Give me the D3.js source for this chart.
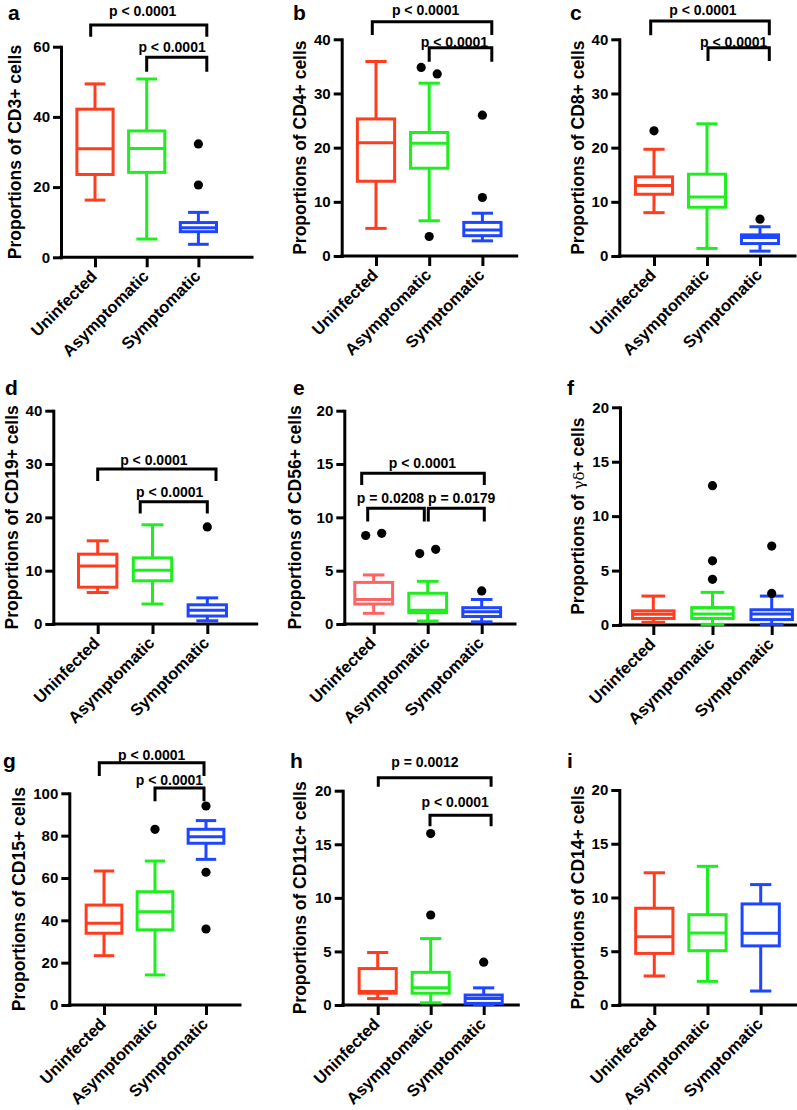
<!DOCTYPE html>
<html>
<head>
<meta charset="utf-8">
<script src="https://cdn.jsdelivr.net/npm/d3@7"></script>
<style>
  html, body { margin: 0; padding: 0; background: #fff; }
  svg text { font-family: "Liberation Sans", Arial, sans-serif; font-weight: bold; fill: #000; }
</style>
</head>
<body>
<svg id="chart" width="797" height="1110"></svg>
<script>
// ---------------- DATA ----------------
const groups = ["Uninfected", "Asymptomatic", "Symptomatic"];
const panelLetters = ["a", "b", "c", "d", "e", "f", "g", "h", "i"];
const markers = ["CD3+", "CD4+", "CD8+", "CD19+", "CD56+", "γδ+", "CD15+", "CD11c+", "CD14+"];
const yMax = [60, 40, 40, 40, 20, 20, 100, 20, 20];
const yTickStep = [20, 10, 10, 10, 5, 5, 20, 5, 5];

// box stats per group: [whisker low, Q1, median, Q3, whisker high]
const cd3Box   = [[16.3, 23.6, 30.9, 42.2, 49.4], [5.2, 24.2, 31.0, 36.0, 50.8], [3.7, 7.3, 8.4, 9.9, 12.8]];
const cd4Box   = [[5.1, 13.8, 20.9, 25.3, 35.9], [6.5, 16.2, 20.8, 22.8, 31.9], [2.8, 3.75, 4.8, 6.2, 7.9]];
const cd8Box   = [[8.0, 11.4, 13.0, 14.6, 19.7], [1.4, 9.0, 10.9, 15.1, 24.4], [0.9, 2.3, 3.4, 3.9, 5.4]];
const cd19Box  = [[5.9, 6.9, 10.9, 13.1, 15.6], [3.75, 8.1, 10.1, 12.4, 18.6], [0.6, 1.5, 2.6, 3.6, 4.9]];
const cd56Box  = [[1.0, 1.87, 2.3, 3.9, 4.6], [0.28, 1.06, 1.3, 2.88, 4.0], [0.2, 0.7, 1.15, 1.53, 2.3]];
const gdBox    = [[0.25, 0.6, 0.98, 1.3, 2.66], [0.06, 0.6, 1.0, 1.6, 3.0], [0.06, 0.5, 1.0, 1.4, 2.66]];
const cd15Box  = [[23.3, 33.9, 38.6, 47.2, 63.3], [14.2, 35.5, 44.0, 53.5, 68.0], [68.8, 76.4, 79.5, 83.0, 87.1]];
const cd11cBox = [[0.6, 1.1, 1.25, 3.4, 4.9], [0.2, 1.1, 1.6, 3.05, 6.2], [0.02, 0.15, 0.6, 0.93, 1.6]];
const cd14Box  = [[2.7, 4.8, 6.35, 9.0, 12.3], [2.2, 5.05, 6.7, 8.4, 12.9], [1.3, 5.5, 6.67, 9.4, 11.2]];

// outliers per group
const cd3Out   = [[], [], [32.3, 20.6]];
const cd4Out   = [[], [34.8, 33.6, 3.6], [26.0, 10.8]];
const cd8Out   = [[23.1], [], [6.8]];
const cd19Out  = [[], [], [18.2]];
const cd56Out  = [[8.3, 8.5], [6.6, 7.0], [3.1]];
const gdOut    = [[], [12.8, 5.9, 4.2], [7.25, 2.9]];
const cd15Out  = [[], [83.0], [94.0, 62.7, 35.9]];
const cd11cOut = [[], [16.0, 8.4], [4.0]];
const cd14Out  = [[], [], []];

// significance brackets: [group from, group to, bracket level (data units), label]
const cd3Sig   = [[0, 2, 66.2, "p < 0.0001"], [1, 2, 57.0, "p < 0.0001"]];
const cd4Sig   = [[0, 2, 43.25, "p < 0.0001"], [1, 2, 38.45, "p < 0.0001"]];
const cd8Sig   = [[0, 2, 43.4, "p < 0.0001"], [1, 2, 38.45, "p < 0.0001"]];
const cd19Sig  = [[0, 2, 29.06, "p < 0.0001"], [1, 2, 22.93, "p < 0.0001"]];
const cd56Sig  = [[0, 2, 14.13, "p < 0.0001"], [0, 1, 10.85, "p = 0.0208"], [1, 2, 10.85, "p = 0.0179"]];
const gdSig    = [];
const cd15Sig  = [[0, 2, 114.45, "p < 0.0001"], [1, 2, 102.5, "p < 0.0001"]];
const cd11cSig = [[0, 2, 21.2, "p = 0.0012"], [1, 2, 17.72, "p < 0.0001"]];
const cd14Sig  = [];

const boxes = [cd3Box, cd4Box, cd8Box, cd19Box, cd56Box, gdBox, cd15Box, cd11cBox, cd14Box];
const outliers = [cd3Out, cd4Out, cd8Out, cd19Out, cd56Out, gdOut, cd15Out, cd11cOut, cd14Out];
const sigs = [cd3Sig, cd4Sig, cd8Sig, cd19Sig, cd56Sig, gdSig, cd15Sig, cd11cSig, cd14Sig];

// ---------------- LAYOUT ----------------
const colors = ["#ff3c1e", "#1eee1e", "#1e46ff"];
const lightRed = "#ff6464";
const layout = [
  {axisX: 61,    first: 95,    step: 51.7, xEnd: 252,   y0: 257.3, yTop: 46.7,  titleX: 15,  lx: 8,   ly: 20},
  {axisX: 341.7, first: 376,   step: 53.2, xEnd: 516.7, y0: 256,   yTop: 39.3,  titleX: 300, lx: 293, ly: 20},
  {axisX: 619.3, first: 654,   step: 53,   xEnd: 795,   y0: 256,   yTop: 39.3,  titleX: 578, lx: 570, ly: 20},
  {axisX: 53.3,  first: 97.7,  step: 54.8, xEnd: 256.7, y0: 624,   yTop: 410.7, titleX: 12,  lx: 5,   ly: 395},
  {axisX: 344.3, first: 373.7, step: 54,   xEnd: 515,   y0: 624,   yTop: 410.7, titleX: 295, lx: 293, ly: 395},
  {axisX: 620,   first: 653.3, step: 59.2, xEnd: 797,   y0: 625,   yTop: 407.3, titleX: 578, lx: 567, ly: 395},
  {axisX: 69.3,  first: 104,   step: 51,   xEnd: 240,   y0: 1005,  yTop: 793.3, titleX: 19,  lx: 3,   ly: 768},
  {axisX: 342.7, first: 377.7, step: 53,   xEnd: 518.3, y0: 1005,  yTop: 790.7, titleX: 300, lx: 290, ly: 768},
  {axisX: 619.3, first: 654.3, step: 53.2, xEnd: 797,   y0: 1005,  yTop: 790,   titleX: 578, lx: 567, ly: 768}
];
// bracket fine layout: [dxLeft, dxRight, legLength, textDy, textDx]
const bracketLayout = [
  [[-4.3, 8.4, 11.7, -9.3, -6], [0, 8.4, 14.4, -5.6, -4.7]],
  [[-3.7, 9.4, 13.3, -6.7, -6.5], [0, 9.4, 14, -1, -6]],
  [[-3.3, 9.3, 14.3, -5.7, -7], [1, 9.3, 13.3, -1, -5]],
  [[0, 8.7, 12, -4, -3], [-12.3, 0, 11.7, -5, -4]],
  [[-12, 2.6, 11.7, -5, -0.5], [-6, -3.4, 13.3, -5.6, -5.5], [0.6, 2.6, 13.3, -5.6, 5.4]],
  [],
  [[-4.7, -2, 13.3, -2.7, 0], [0, -2, 13.3, -2.7, -10]],
  [[0.6, 7.4, 9, -11, -9.8], [-0.7, 7.4, 11, -8.3, -5.3]],
  []
];

const svg = d3.select("#chart");
const SW = 3;

layout.forEach((L, p) => {
  const g = svg.append("g");
  const x = d3.scalePoint().domain(groups)
    .range([L.first, L.first + 2 * L.step]);
  const y = d3.scaleLinear().domain([0, yMax[p]]).range([L.y0, L.yTop]);
  const boxW = L.step * 0.7, capW = L.step * 0.4;

  // y axis
  const yAxis = d3.axisLeft(y)
    .tickValues(d3.range(0, yMax[p] + 0.001, yTickStep[p]))
    .tickSize(8).tickSizeOuter(0).tickPadding(3);
  const ya = g.append("g").attr("transform", `translate(${L.axisX},0)`).call(yAxis);
  ya.select(".domain").attr("stroke", "#000").attr("stroke-width", SW).attr("stroke-linecap", "square");
  ya.selectAll(".tick line").attr("stroke", "#000").attr("stroke-width", SW);
  ya.selectAll(".tick text").attr("font-size", 15).attr("font-family", "Liberation Sans, Arial, sans-serif")
    .attr("font-weight", "bold").attr("fill", "#000");

  // x axis line
  g.append("line").attr("x1", L.axisX).attr("x2", L.xEnd).attr("y1", y(0)).attr("y2", y(0))
    .attr("stroke", "#000").attr("stroke-width", SW).attr("stroke-linecap", "square");
  const xAxis = d3.axisBottom(x).tickSize(10).tickSizeOuter(0).tickFormat("");
  const xa = g.append("g").attr("transform", `translate(0,${y(0)})`).call(xAxis);
  xa.select(".domain").remove();
  xa.selectAll(".tick line").attr("stroke", "#000").attr("stroke-width", SW);
  // category labels
  g.selectAll("text.cat").data(groups).join("text").attr("class", "cat")
    .attr("transform", d => `translate(${x(d) + 3},${y(0) + 20}) rotate(-45)`)
    .attr("text-anchor", "end").attr("font-size", 16.5).text(d => d);

  // y title
  const cy = (L.y0 + L.yTop) / 2;
  const t = g.append("text").attr("transform", `translate(${L.titleX},${cy}) rotate(-90)`)
    .attr("text-anchor", "middle").attr("dy", "0.35em").attr("font-size", 17.5);
  if (markers[p] === "γδ+") {
    t.append("tspan").text("Proportions of ");
    t.append("tspan").attr("font-family", "DejaVu Serif, serif").attr("font-weight", "normal")
      .attr("font-size", 15).text("γδ");
    t.append("tspan").text("+ cells");
  } else {
    t.text(`Proportions of ${markers[p]} cells`);
  }

  // panel letter
  g.append("text").attr("x", L.lx).attr("y", L.ly).attr("font-size", 21).text(panelLetters[p]);

  // boxes
  boxes[p].forEach((s, gi) => {
    const col = (p === 4 && gi === 0) ? lightRed : colors[gi];
    const cx = x(groups[gi]);
    const bg = g.append("g").attr("stroke", col).attr("stroke-width", SW).attr("fill", "none");
    bg.append("line").attr("x1", cx).attr("x2", cx).attr("y1", y(s[0])).attr("y2", y(s[1]));
    bg.append("line").attr("x1", cx).attr("x2", cx).attr("y1", y(s[3])).attr("y2", y(s[4]));
    bg.append("line").attr("x1", cx - capW / 2).attr("x2", cx + capW / 2).attr("y1", y(s[0])).attr("y2", y(s[0]));
    bg.append("line").attr("x1", cx - capW / 2).attr("x2", cx + capW / 2).attr("y1", y(s[4])).attr("y2", y(s[4]));
    bg.append("rect").attr("x", cx - boxW / 2).attr("width", boxW)
      .attr("y", y(s[3])).attr("height", y(s[1]) - y(s[3])).attr("fill", "#fff");
    bg.append("line").attr("x1", cx - boxW / 2).attr("x2", cx + boxW / 2).attr("y1", y(s[2])).attr("y2", y(s[2]));
  });

  // outliers (dodge overlapping points horizontally; first listed goes left)
  outliers[p].forEach((vals, gi) => {
    const cx = x(groups[gi]);
    const pts = vals.map(v => ({v, py: y(v), dx: 0}));
    for (let k = 1; k < pts.length; k++) {
      if (Math.abs(pts[k].py - pts[k - 1].py) < 9 && pts[k - 1].dx === 0) {
        pts[k - 1].dx = -8; pts[k].dx = 8;
      }
    }
    g.selectAll(null).data(pts).join("circle")
      .attr("cx", d => cx + d.dx).attr("cy", d => d.py).attr("r", 4.6).attr("fill", "#000");
  });

  // brackets
  sigs[p].forEach((b, k) => {
    const [dl, dr, leg, tdy, tdx] = bracketLayout[p][k];
    const x1 = x(groups[b[0]]) + dl, x2 = x(groups[b[1]]) + dr, yy = y(b[2]);
    g.append("path")
      .attr("d", d3.line()([[x1, yy + leg], [x1, yy], [x2, yy], [x2, yy + leg]]))
      .attr("fill", "none").attr("stroke", "#000").attr("stroke-width", SW).attr("stroke-linejoin", "miter");
    g.append("text").attr("x", (x1 + x2) / 2 + tdx).attr("y", yy + tdy)
      .attr("text-anchor", "middle").attr("font-size", 14).text(b[3]);
  });
});
</script>
</body>
</html>
